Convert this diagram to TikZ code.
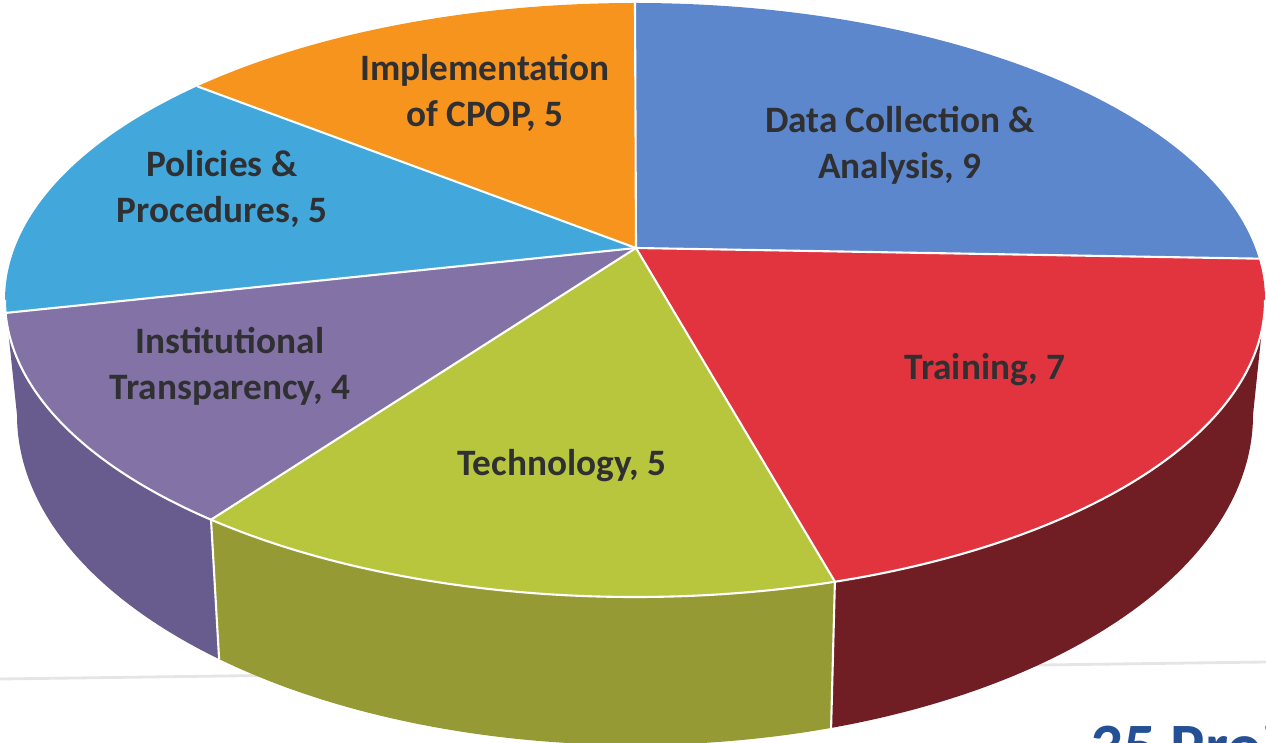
\documentclass[tikz,border=0pt]{standalone}
\usepackage{fontspec}
\setmainfont{Carlito}
\definecolor{dcblue}{RGB}{92,135,204}
\definecolor{trred}{RGB}{226,52,62}
\definecolor{trside}{RGB}{112,30,36}
\definecolor{tegreen}{RGB}{184,198,62}
\definecolor{teside}{RGB}{150,154,52}
\definecolor{itpurple}{RGB}{130,114,166}
\definecolor{itside}{RGB}{104,92,142}
\definecolor{ppblue}{RGB}{66,168,220}
\definecolor{imorange}{RGB}{246,148,30}
\definecolor{labelgray}{RGB}{48,48,50}
\definecolor{projblue}{RGB}{36,80,150}

\begin{document}
\begin{tikzpicture}[x=0.01cm,y=0.01cm]
	\tikzstyle{every node}+=[inner sep=0pt, align=center, text=labelgray, font=\bfseries\fontsize{10.6}{13.1}\selectfont]
	\tikzstyle{sep}=[white, line width=0.6pt]
	\useasboundingbox (0,0) rectangle (1266,-743);
	\clip (0,0) rectangle (1266,-743);
	\draw [black!10, line width=0.8pt] (0,-679) -- (1266,-662);
	\node [anchor=north west, text=projblue, font=\bfseries\fontsize{18.4}{20}\selectfont] (proj) at (1090,-722) {35 Proj};
	\begin{scope}[shift={(635,-300)}]
	\coordinate (apex) at (1,52);
	% side wall, bottom rim seen a little wider open
	\fill [itside] (180:630 and 297) arc[start angle=180, end angle=227.7, x radius=630, y radius=297] -- ([shift={(0,-115)}]227.7:618 and 330) arc[start angle=227.7, end angle=180, x radius=618, y radius=330] -- cycle;
	\fill [teside] (227.7:630 and 297) arc[start angle=227.7, end angle=288.5, x radius=630, y radius=297] -- ([shift={(0,-115)}]288.5:618 and 330) arc[start angle=288.5, end angle=227.7, x radius=618, y radius=330] -- cycle;
	\fill [trside] (288.5:630 and 297) arc[start angle=288.5, end angle=360, x radius=630, y radius=297] -- ([shift={(0,-115)}]360:618 and 330) arc[start angle=360, end angle=288.5, x radius=618, y radius=330] -- cycle;
	\draw [sep] (227.7:630 and 297) -- ([shift={(0,-115)}]227.7:618 and 330);
	\draw [sep] (288.5:630 and 297) -- ([shift={(0,-115)}]288.5:618 and 330);
	% top face
	\fill [dcblue] (apex) -- (90:630 and 297) arc[start angle=90, end angle=8, x radius=630, y radius=297] -- cycle;
	\fill [trred] (apex) -- (8:630 and 297) arc[start angle=8, end angle=-71.5, x radius=630, y radius=297] -- cycle;
	\fill [tegreen] (apex) -- (-71.5:630 and 297) arc[start angle=-71.5, end angle=-132.3, x radius=630, y radius=297] -- cycle;
	\fill [itpurple] (apex) -- (-132.3:630 and 297) arc[start angle=-132.3, end angle=-177.5, x radius=630, y radius=297] -- cycle;
	\fill [ppblue] (apex) -- (182.5:630 and 297) arc[start angle=182.5, end angle=134, x radius=630, y radius=297] -- cycle;
	\fill [imorange] (apex) -- (134:630 and 297) arc[start angle=134, end angle=90, x radius=630, y radius=297] -- cycle;
	\draw [sep] (apex) -- (90:630 and 297);
	\draw [sep] (apex) -- (8:630 and 297);
	\draw [sep] (apex) -- (-71.5:630 and 297);
	\draw [sep] (apex) -- (-132.3:630 and 297);
	\draw [sep] (apex) -- (182.5:630 and 297);
	\draw [sep] (apex) -- (134:630 and 297);
	\draw [sep] (0:630 and 297) arc[start angle=0, end angle=-180, x radius=630, y radius=297];
	\end{scope}
	% labels
	\node (datacoll) at (900,-145) {Data Collection \&\\Analysis, 9};
	\node (training) at (985,-370) {Training, 7};
	\node (technology) at (562,-466) {Technology, 5};
	\node (transparency) at (230,-366) {Institutional\\Transparency, 4};
	\node (policies) at (222,-189) {Policies \&\\Procedures, 5};
	\node (cpop) at (485,-93) {Implementation\\of CPOP, 5};
\end{tikzpicture}
\end{document}
